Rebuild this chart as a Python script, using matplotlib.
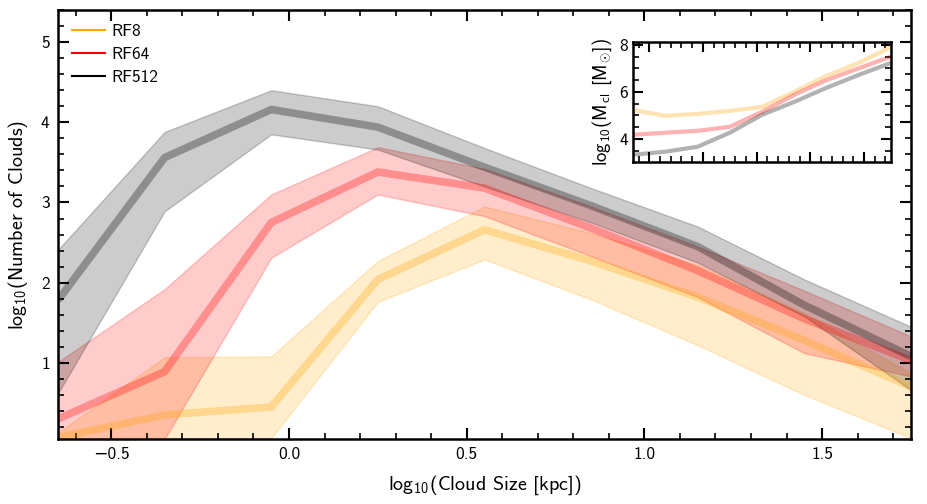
import matplotlib
matplotlib.use("Agg")
import matplotlib.pyplot as plt
from matplotlib.lines import Line2D
from matplotlib.ticker import MultipleLocator, NullFormatter, FuncFormatter

plt.rcParams['font.family'] = ['cmss10', 'DejaVu Sans']
plt.rcParams['mathtext.fontset'] = 'custom'
plt.rcParams['mathtext.rm'] = 'cmss10'
plt.rcParams['mathtext.sf'] = 'cmss10'
plt.rcParams['mathtext.it'] = 'cmss10'
plt.rcParams['mathtext.bf'] = 'cmss10'
plt.rcParams['axes.formatter.use_mathtext'] = False
plt.rcParams['axes.unicode_minus'] = True

# ---- data ----
size_bins = [-0.65, -0.35, -0.05, 0.25, 0.55, 0.85, 1.15, 1.45, 1.75]
labels = ["RF8", "RF64", "RF512"]
colors = ["orange", "red", "black"]

rf8_med = [0.07, 0.35, 0.45, 2.04, 2.66, 2.27, 1.82, 1.28, 0.70]
rf8_hi = [0.13, 1.07, 1.08, 2.27, 2.95, 2.62, 2.22, 1.62, 0.87]
rf8_lo = [-1.0, 0.06, 0.06, 1.76, 2.29, 1.79, 1.22, 0.60, 0.06]

rf64_med = [0.30, 0.89, 2.75, 3.38, 3.18, 2.68, 2.15, 1.55, 1.03]
rf64_hi = [1.01, 1.92, 3.10, 3.69, 3.42, 2.95, 2.45, 1.90, 1.33]
rf64_lo = [-1.0, 0.05, 2.31, 3.10, 2.83, 2.33, 1.82, 1.12, 0.83]

rf512_med = [1.78, 3.56, 4.16, 3.94, 3.44, 2.96, 2.45, 1.72, 1.08]
rf512_hi = [2.41, 3.88, 4.40, 4.20, 3.68, 3.18, 2.70, 2.04, 1.45]
rf512_lo = [0.62, 2.89, 3.85, 3.66, 3.20, 2.75, 2.25, 1.58, 0.66]

rf8_mass = [5.23, 4.98, 5.06, 5.19, 5.36, 6.00, 6.68, 7.23, 7.91]
rf64_mass = [4.17, 4.26, 4.34, 4.51, 5.15, 5.87, 6.50, 7.00, 7.50]
rf512_mass = [3.32, 3.45, 3.66, 4.26, 5.02, 5.57, 6.17, 6.72, 7.23]

meds = [rf8_med, rf64_med, rf512_med]
his = [rf8_hi, rf64_hi, rf512_hi]
los = [rf8_lo, rf64_lo, rf512_lo]
masses = [rf8_mass, rf64_mass, rf512_mass]


def fmt(v, pos):
    s = f"{v:.1f}"
    return s.replace("-", "\u2212")


fig = plt.figure(figsize=(9.27, 5.04), dpi=100)
ax = fig.add_axes([0.0626, 0.129, 0.9201, 0.851])

for med, hi, lo, c in zip(meds, his, los, colors):
    ax.fill_between(size_bins, lo, hi, color=c, alpha=0.2, lw=1.0)
    ax.plot(size_bins, med, color=c, alpha=0.3, lw=5.5, solid_capstyle='butt')

ax.set_xlim(-0.65, 1.75)
ax.set_ylim(0.05, 5.4)
ax.xaxis.set_major_locator(MultipleLocator(0.5))
ax.xaxis.set_minor_locator(MultipleLocator(0.1))
ax.xaxis.set_major_formatter(FuncFormatter(fmt))
ax.yaxis.set_major_locator(MultipleLocator(1))
ax.yaxis.set_minor_locator(MultipleLocator(0.2))
ax.tick_params(which='both', direction='in', top=True, right=True, labelsize=12.5)
ax.tick_params(which='major', length=8, width=1.5, pad=6)
ax.tick_params(which='minor', length=4, width=1.2)
for s in ax.spines.values():
    s.set_linewidth(1.8)
ax.set_xlabel(r"log$_{10}$(Cloud Size [kpc])", fontsize=14.5, labelpad=8)
ax.set_ylabel(r"log$_{10}$(Number of Clouds)", fontsize=14.5, labelpad=8)

handles = [Line2D([0], [0], color=c, lw=1.5) for c in colors]
ax.legend(handles, labels, loc='upper left', frameon=False, fontsize=12.5,
          handlelength=1.9, handletextpad=0.4, borderaxespad=0.4,
          labelspacing=0.45)

axin = fig.add_axes([0.683, 0.679, 0.278, 0.238])
for m, c in zip(masses, colors):
    axin.plot(size_bins, m, color=c, alpha=0.3, lw=3)
axin.set_xlim(-0.65, 1.75)
axin.set_ylim(3.02, 8.13)
axin.xaxis.set_major_locator(MultipleLocator(0.5))
axin.xaxis.set_minor_locator(MultipleLocator(0.1))
axin.xaxis.set_major_formatter(NullFormatter())
axin.yaxis.set_major_locator(MultipleLocator(2))
axin.yaxis.set_minor_locator(MultipleLocator(0.5))
axin.tick_params(which='both', direction='in', top=True, right=True, labelsize=12.5)
axin.tick_params(which='major', length=7, width=1.5)
axin.tick_params(which='minor', length=4, width=1.2)
for s in axin.spines.values():
    s.set_linewidth(1.8)
axin.set_ylabel(r"log$_{10}$(M$_{\rm c\hspace{0.1}l}$ [M$_{\odot}$])", fontsize=13.5, labelpad=4)

fig.savefig("out.png", dpi=100)
